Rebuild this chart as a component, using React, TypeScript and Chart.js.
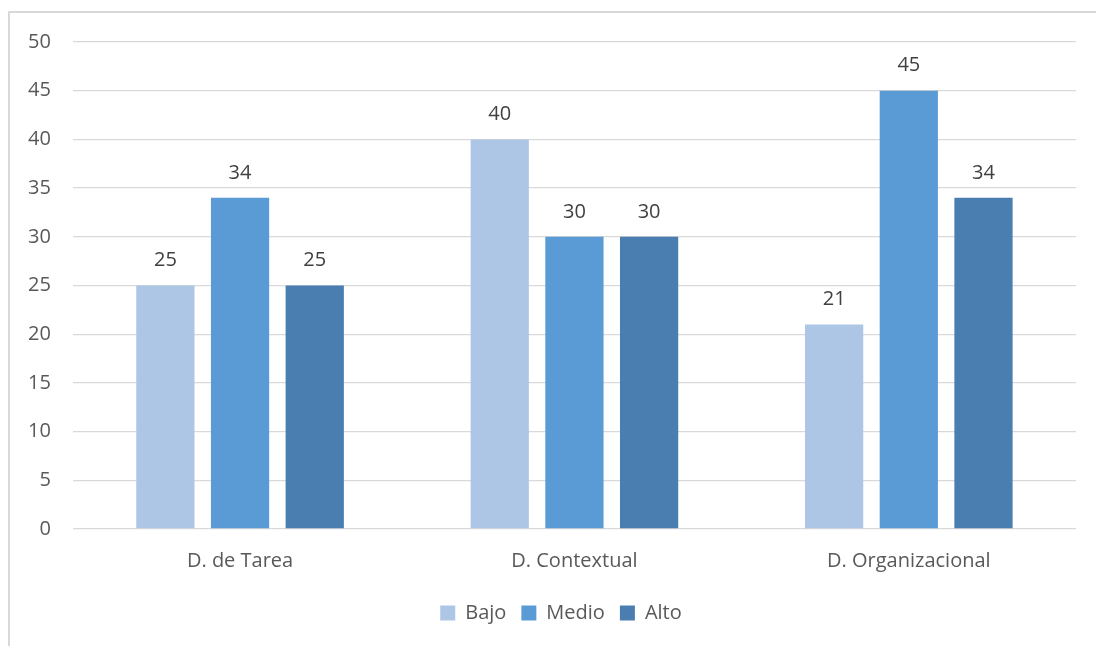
import React, { useEffect, useRef } from "react";
import { Chart, registerables } from "chart.js";

Chart.register(...registerables);

const categories = ["D. de Tarea", "D. Contextual", "D. Organizacional"];
const seriesNames = ["Bajo", "Medio", "Alto"];
const bajo = [25, 40, 21];
const medio = [34, 30, 45];
const alto = [25, 30, 34];
const colors = ["#ADC6E6", "#5B9BD5", "#4A7EB0"];
const yTicks = [0, 5, 10, 15, 20, 25, 30, 35, 40, 45, 50];

const FONT = "'Open Sans', 'Liberation Sans', sans-serif";

const valueLabels = {
  id: "valueLabels",
  afterDatasetsDraw(chart: any) {
    const ctx = chart.ctx;
    ctx.save();
    ctx.font = `20px ${FONT}`;
    ctx.fillStyle = "#404040";
    ctx.textAlign = "center";
    ctx.textBaseline = "middle";
    chart.data.datasets.forEach((ds: any, i: number) => {
      const meta = chart.getDatasetMeta(i);
      meta.data.forEach((bar: any, j: number) => {
        ctx.fillText(String(ds.data[j]), bar.x, bar.y - 25);
      });
    });
    ctx.restore();
  },
};

const legendShift = {
  id: "legendShift",
  afterLayout(chart: any) {
    const l = chart.legend;
    if (l) {
      l.left += 20;
      l.right += 20;
    }
  },
};

export default function App() {
  const ref = useRef<HTMLCanvasElement>(null);
  useEffect(() => {
    const series = [bajo, medio, alto];
    const chart = new Chart(ref.current!, {
      type: "bar",
      data: {
        labels: categories,
        datasets: series.map((d, i) => ({
          label: seriesNames[i],
          data: d,
          backgroundColor: colors[i],
          borderWidth: 0,
          categoryPercentage: 0.67,
          barPercentage: 0.78,
        })),
      },
      options: {
        animation: false,
        responsive: false,
        maintainAspectRatio: false,
        layout: { padding: { left: 6, right: 20, top: 42, bottom: 13 } },
        scales: {
          x: {
            grid: { display: false, drawTicks: false },
            border: { display: false },
            ticks: { color: "#595959", font: { family: FONT, size: 20 }, padding: 20 },
            afterFit: (axis: any) => {
              axis.height -= 5;
            },
          },
          y: {
            min: 0,
            max: 50,
            afterBuildTicks: (axis: any) => {
              axis.ticks = yTicks.map((v) => ({ value: v }));
            },
            grid: { color: "#d9d9d9", lineWidth: 1.3, drawTicks: false },
            border: { display: false },
            ticks: { color: "#595959", font: { family: FONT, size: 20 }, padding: 22 },
          },
        },
        plugins: {
          legend: {
            position: "bottom",
            labels: {
              color: "#595959",
              font: { family: FONT, size: 20 },
              boxWidth: 15,
              boxHeight: 15,
              padding: 15,
            },
          },
          tooltip: { enabled: false },
        },
      },
      plugins: [valueLabels, legendShift],
    });
    return () => chart.destroy();
  }, []);
  return (
    <div>
      <div
        style={{
          position: "fixed",
          left: 8,
          top: 11,
          width: 1200,
          height: 800,
          border: "2px solid #d9d9d9",
          boxSizing: "border-box",
        }}
      />
      <canvas
        ref={ref}
        width={1096}
        height={646}
        style={{ position: "fixed", left: 0, top: 0, width: 1096, height: 646 }}
      />
    </div>
  );
}
